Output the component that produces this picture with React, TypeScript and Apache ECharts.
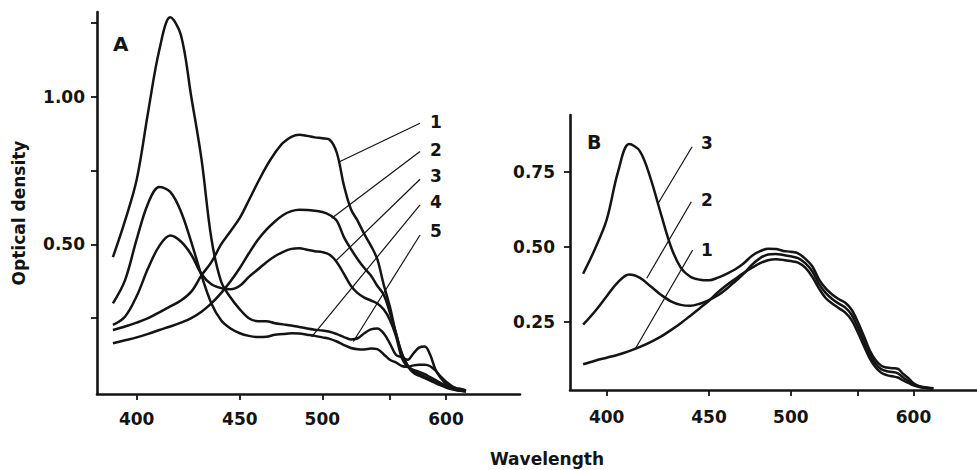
import React, { useEffect, useRef } from "react";
import * as echarts from "echarts";

// Wavelength grid (nm) shared by every curve
const wavelengths = [
  390, 395, 400, 405, 410, 415, 420, 425, 430, 435, 440, 445, 450, 455, 460, 465,
  470, 475, 480, 485, 490, 495, 500, 505, 510, 515, 520, 525, 530, 535, 540, 545,
  550, 555, 560, 565, 570, 575, 580, 585, 590, 595, 600, 605, 610, 615, 620,
];

// Panel A optical densities
const odA1 = [0.21, 0.222, 0.235, 0.25, 0.27, 0.29, 0.31, 0.34, 0.395, 0.44, 0.5, 0.545, 0.59, 0.65, 0.71, 0.765, 0.81, 0.845, 0.865, 0.872, 0.868, 0.863, 0.86, 0.855, 0.81, 0.7, 0.62, 0.58, 0.535, 0.496, 0.45, 0.365, 0.29, 0.2, 0.13, 0.088, 0.065, 0.055, 0.047, 0.038, 0.03, 0.022, 0.015, 0.01, 0.006, 0.004, 0.002];
const odA2 = [0.165, 0.175, 0.185, 0.197, 0.21, 0.222, 0.235, 0.25, 0.272, 0.3, 0.335, 0.375, 0.42, 0.47, 0.515, 0.55, 0.578, 0.6, 0.613, 0.618, 0.617, 0.614, 0.61, 0.6, 0.58, 0.525, 0.485, 0.45, 0.42, 0.395, 0.36, 0.33, 0.27, 0.2, 0.13, 0.09, 0.07, 0.06, 0.052, 0.042, 0.033, 0.025, 0.017, 0.011, 0.007, 0.004, 0.002];
const odA3 = [0.227, 0.255, 0.325, 0.42, 0.495, 0.53, 0.51, 0.465, 0.4, 0.365, 0.352, 0.348, 0.36, 0.39, 0.415, 0.44, 0.46, 0.475, 0.485, 0.487, 0.482, 0.477, 0.474, 0.465, 0.44, 0.4, 0.36, 0.335, 0.32, 0.31, 0.3, 0.28, 0.245, 0.19, 0.115, 0.085, 0.075, 0.068, 0.06, 0.05, 0.04, 0.03, 0.02, 0.013, 0.008, 0.004, 0.002];
const odA4 = [0.3, 0.378, 0.518, 0.64, 0.695, 0.678, 0.612, 0.508, 0.395, 0.3, 0.243, 0.215, 0.199, 0.19, 0.186, 0.187, 0.194, 0.196, 0.199, 0.198, 0.194, 0.19, 0.185, 0.18, 0.171, 0.159, 0.149, 0.145, 0.144, 0.147, 0.145, 0.128, 0.109, 0.1, 0.088, 0.085, 0.09, 0.092, 0.092, 0.087, 0.072, 0.052, 0.035, 0.022, 0.012, 0.006, 0.003];
const odA5 = [0.457, 0.58, 0.72, 0.95, 1.16, 1.27, 1.21, 1.0, 0.79, 0.52, 0.375, 0.32, 0.28, 0.25, 0.24, 0.24, 0.233, 0.229, 0.225, 0.22, 0.215, 0.211, 0.208, 0.204, 0.196, 0.186, 0.178, 0.182, 0.199, 0.212, 0.215, 0.199, 0.165, 0.126, 0.118, 0.109, 0.131, 0.15, 0.154, 0.126, 0.075, 0.047, 0.027, 0.018, 0.013, 0.01, 0.005];

// Panel B optical densities
const odB1 = [0.108, 0.12, 0.13, 0.14, 0.152, 0.166, 0.182, 0.2, 0.222, 0.245, 0.27, 0.295, 0.32, 0.348, 0.372, 0.393, 0.413, 0.43, 0.445, 0.455, 0.458, 0.456, 0.452, 0.447, 0.43, 0.4, 0.36, 0.328, 0.31, 0.295, 0.28, 0.255, 0.215, 0.17, 0.128, 0.098, 0.08, 0.072, 0.068, 0.064, 0.054, 0.046, 0.038, 0.033, 0.03, 0.028, 0.027];
const odB2 = [0.24, 0.285, 0.335, 0.382, 0.407, 0.396, 0.368, 0.34, 0.318, 0.306, 0.303, 0.31, 0.322, 0.338, 0.36, 0.385, 0.41, 0.44, 0.462, 0.474, 0.476, 0.472, 0.468, 0.462, 0.445, 0.418, 0.375, 0.345, 0.325, 0.31, 0.297, 0.273, 0.232, 0.186, 0.142, 0.11, 0.092, 0.085, 0.082, 0.078, 0.064, 0.052, 0.041, 0.034, 0.031, 0.029, 0.028];
const odB3 = [0.41, 0.493, 0.59, 0.75, 0.842, 0.818, 0.728, 0.61, 0.5, 0.43, 0.4, 0.39, 0.388, 0.397, 0.41, 0.425, 0.445, 0.47, 0.485, 0.493, 0.492, 0.486, 0.483, 0.478, 0.46, 0.435, 0.39, 0.36, 0.34, 0.325, 0.313, 0.29, 0.25, 0.203, 0.155, 0.122, 0.103, 0.097, 0.095, 0.093, 0.076, 0.062, 0.045, 0.036, 0.032, 0.03, 0.028];

// Axis ticks (wavelength, nm) and optical density ticks
const xLabelWavelengths = [400, 450, 500, 600];
const xTickWavelengths = [400, 450, 500, 550, 600];
const yLabelsA = [0.5, 1.0];
const yTicksA = [0.25, 0.5, 0.75, 1.0, 1.25];
const yTicksB = [0.25, 0.5, 0.75];

// Leader lines: [wavelength start, OD start, wavelength end, OD end]
const leadersA = [
  [575.8, 0.911, 512.2, 0.781],
  [575.8, 0.815, 506.4, 0.589],
  [575.8, 0.721, 508.8, 0.442],
  [575.8, 0.634, 492.9, 0.187],
  [575.8, 0.532, 521.8, 0.171],
];
const leadersB = [
  [440.9, 0.833, 423.7, 0.645],
  [440.5, 0.65, 418.2, 0.395],
  [441.2, 0.489, 412.7, 0.158],
];
const curveLabelsA = ["1", "2", "3", "4", "5"];
const curveLabelsB = ["3", "2", "1"];

const toNu = (w: number) => 1e7 / w;
const FONT = "'DejaVu Sans', sans-serif";
const INK = "#141414";

function App() {
  const ref = useRef<HTMLDivElement>(null);
  useEffect(() => {
    if (!ref.current) return;
    const chart = echarts.init(ref.current, undefined, { renderer: "svg" });

    const mk = (od: number[]) => wavelengths.map((w, i) => [toNu(w), od[i]]);
    const leaderData = (arr: number[][]) =>
      arr.map((l) => [{ coord: [toNu(l[0]), l[1]] }, { coord: [toNu(l[2]), l[3]] }]);

    const lineSeries = (od: number[], idx: number, extra: any = {}) => ({
      type: "line",
      xAxisIndex: idx,
      yAxisIndex: idx,
      data: mk(od),
      smooth: 0.35,
      showSymbol: false,
      symbol: "none",
      silent: true,
      lineStyle: { color: INK, width: 2.5 },
      emphasis: { disabled: true },
      ...extra,
    });

    const markLine = (arr: number[][]) => ({
      markLine: {
        silent: true,
        symbol: ["none", "none"],
        label: { show: false },
        lineStyle: { color: INK, width: 1.2, type: "solid" },
        emphasis: { disabled: true },
        data: leaderData(arr),
      },
    });

    const xAxis = (idx: number, min: number, max: number, margin: number) => ({
      type: "value",
      gridIndex: idx,
      inverse: true,
      min,
      max,
      splitLine: { show: false },
      axisLine: { show: true, onZero: false, lineStyle: { color: INK, width: 2.6 } },
      axisTick: {
        show: true,
        length: 6,
        customValues: xTickWavelengths.map(toNu),
        lineStyle: { color: INK, width: 1.8 },
      },
      axisLabel: {
        customValues: xLabelWavelengths.map(toNu),
        formatter: (v: number) => String(Math.round(1e7 / v)),
        fontFamily: FONT,
        fontWeight: "bold",
        fontSize: 17,
        color: INK,
        margin,
      },
    });

    const yAxis = (idx: number, min: number, max: number, ticks: number[], labels: number[], margin: number) => ({
      type: "value",
      gridIndex: idx,
      min,
      max,
      splitLine: { show: false },
      axisLine: { show: true, onZero: false, lineStyle: { color: INK, width: 2.6 } },
      axisTick: { show: true, length: 6, customValues: ticks, lineStyle: { color: INK, width: 1.8 } },
      axisLabel: {
        customValues: labels,
        formatter: (v: number) => v.toFixed(2),
        fontFamily: FONT,
        fontWeight: "bold",
        fontSize: 17,
        color: INK,
        margin,
      },
    });

    const txt = (text: string, x: number, y: number, size: number, extra: any = {}) => ({
      type: "text",
      x,
      y,
      silent: true,
      style: {
        text,
        fill: INK,
        font: `bold ${size}px ${FONT}`,
        textAlign: "left",
        textVerticalAlign: "middle",
        align: "left",
        verticalAlign: "middle",
        ...(extra.style || {}),
      },
      ...(extra.rotation !== undefined ? { rotation: extra.rotation } : {}),
    });

    const labelGraphics: any[] = [];
    const ysA = [122, 150, 176, 202, 231];
    curveLabelsA.forEach((t, i) => labelGraphics.push(txt(t, 430, ysA[i], 17)));
    const ysB = [143, 200, 250];
    curveLabelsB.forEach((t, i) => labelGraphics.push(txt(t, 701, ysB[i], 17)));

    chart.setOption({
      animation: false,
      backgroundColor: "#ffffff",
      grid: [
        { left: 97, top: 12, width: 423, height: 382 },
        { left: 570, top: 115, width: 407, height: 275 },
      ],
      xAxis: [xAxis(0, 14674, 26070, 16), xAxis(1, 14943, 25997, 18)],
      yAxis: [
        yAxis(0, -0.007, 1.288, yTicksA, yLabelsA, 12),
        yAxis(1, 0.0223, 0.939, yTicksB, yTicksB, 15),
      ],
      series: [
        lineSeries(odA1, 0, markLine(leadersA)),
        lineSeries(odA2, 0),
        lineSeries(odA3, 0),
        lineSeries(odA4, 0),
        lineSeries(odA5, 0),
        lineSeries(odB1, 1, markLine(leadersB)),
        lineSeries(odB2, 1),
        lineSeries(odB3, 1),
      ],
      graphic: [
        txt("A", 113, 44, 20),
        txt("B", 587, 142, 19),
        txt("Optical density", 19, 213, 17, {
          rotation: Math.PI / 2,
          style: { textAlign: "center", align: "center" },
        }),
        txt("Wavelength", 547, 459, 17, { style: { textAlign: "center", align: "center" } }),
        ...labelGraphics,
      ],
    });
    return () => chart.dispose();
  }, []);

  return (
    <div
      ref={ref}
      style={{ position: "fixed", left: 0, top: 0, width: 977, height: 470, background: "#fff" }}
    />
  );
}

export default App;
